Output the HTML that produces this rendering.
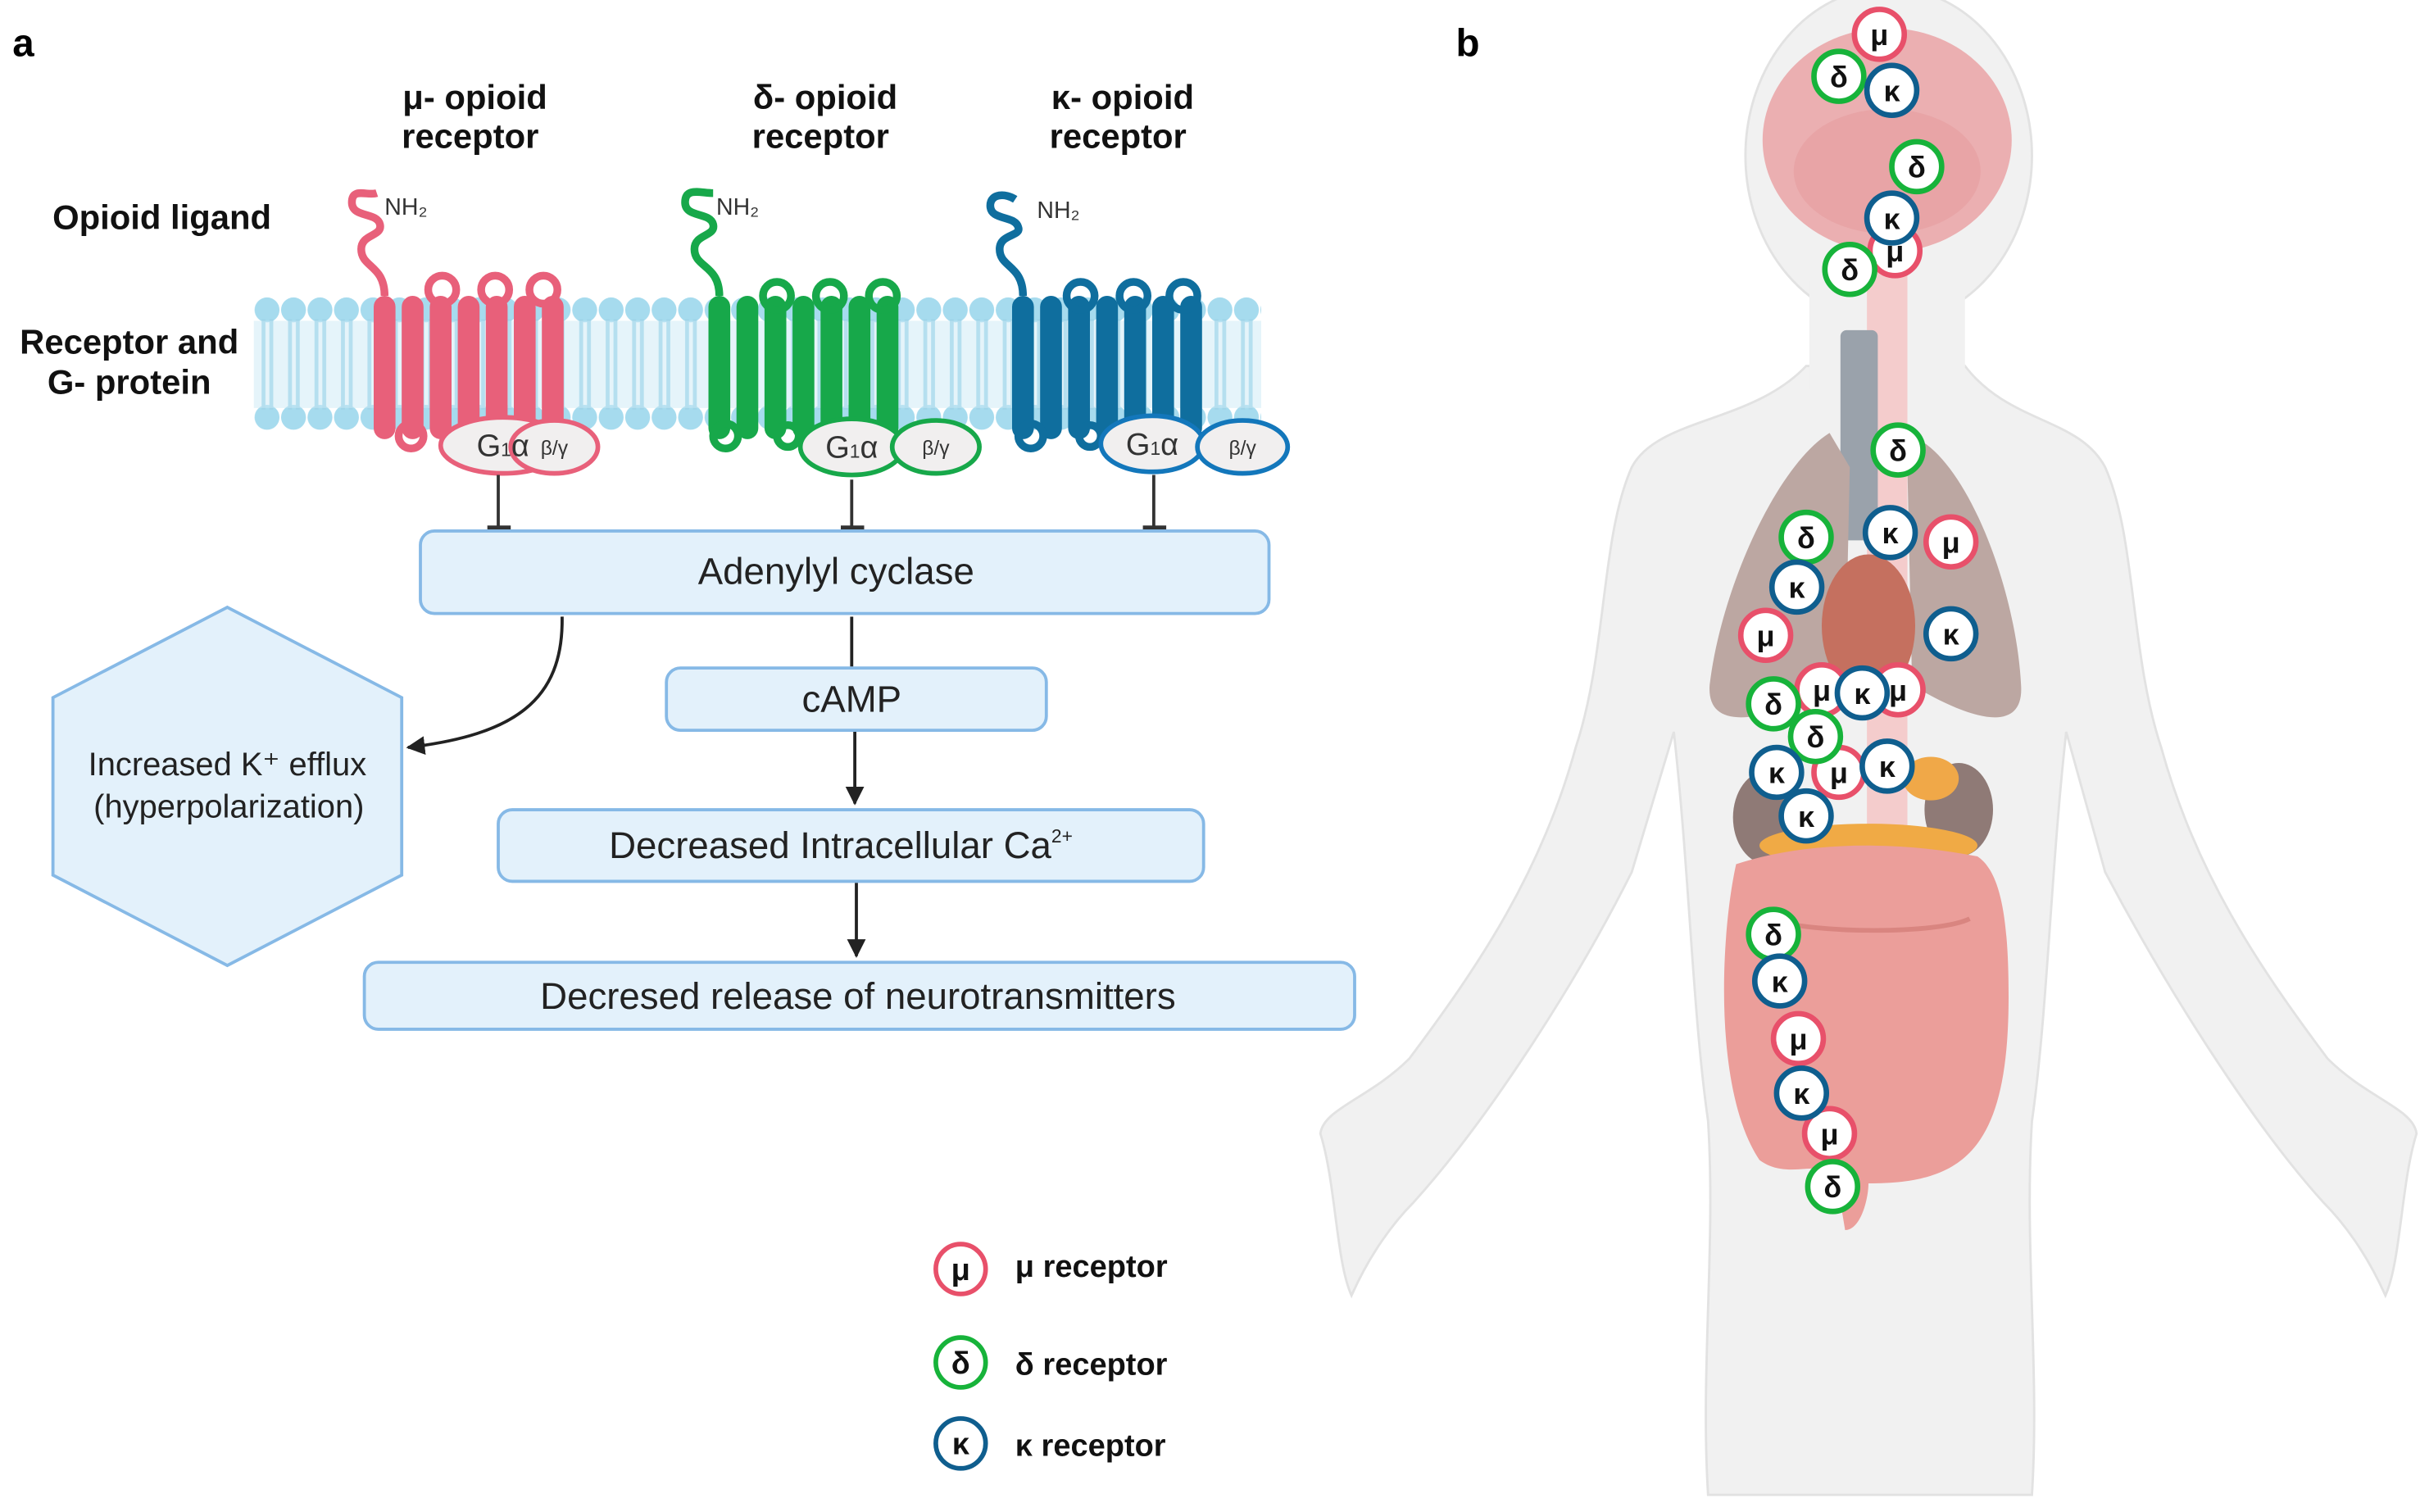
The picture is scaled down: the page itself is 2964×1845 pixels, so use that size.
<!DOCTYPE html>
<html><head><meta charset="utf-8"><style>
html,body{margin:0;padding:0;background:#fff}
svg{display:block}
text{font-family:"Liberation Sans","DejaVu Sans",sans-serif}
</style></head><body>
<svg width="2964" height="1845" viewBox="0 0 1560 971" xmlns="http://www.w3.org/2000/svg">
<defs>
<marker id="ar" viewBox="0 0 10 10" refX="9" refY="5" markerWidth="6" markerHeight="6" orient="auto"><path d="M0,0 L10,5 L0,10 z" fill="#222"/></marker>
<pattern id="lip" x="163" y="0" width="17" height="971" patternUnits="userSpaceOnUse">
<circle cx="8.5" cy="199" r="8" fill="#a6dbee"/><circle cx="8.5" cy="268" r="8" fill="#a6dbee"/>
<rect x="5" y="205" width="2.5" height="58" fill="#9fd4e8"/><rect x="10" y="205" width="2.5" height="58" fill="#9fd4e8"/>
</pattern>
<g id="rec">
<rect x="0" y="0" width="14" height="92" rx="7"/>
<rect x="18" y="0" width="14" height="92" rx="7"/>
<rect x="36" y="0" width="14" height="92" rx="7"/>
<rect x="54" y="0" width="14" height="92" rx="7"/>
<rect x="72" y="0" width="14" height="92" rx="7"/>
<rect x="90" y="0" width="14" height="92" rx="7"/>
<rect x="108" y="0" width="14" height="92" rx="7"/>
</g>
</defs>
<rect width="1560" height="971" fill="#fff"/>

<!-- Panel labels -->
<text x="8" y="36" font-size="25" font-weight="bold">a</text>
<text x="935" y="36" font-size="25" font-weight="bold">b</text>

<!-- headers -->
<g font-size="22" font-weight="bold" text-anchor="middle" fill="#111">
<text x="305" y="70">μ- opioid</text><text x="302" y="95">receptor</text>
<text x="530" y="70">δ- opioid</text><text x="527" y="95">receptor</text>
<text x="721" y="70">κ- opioid</text><text x="718" y="95">receptor</text>
<text x="104" y="147">Opioid ligand</text>
<text x="83" y="227">Receptor and</text>
<text x="83" y="253">G- protein</text>
</g>

<!-- membrane -->
<rect x="163" y="190" width="647" height="87" fill="url(#lip)"/>
<rect x="163" y="206" width="647" height="56" fill="#cbeaf5" opacity="0.5"/>

<!-- mu receptor -->
<g fill="#e8607a" stroke="#e8607a">
<use href="#rec" x="240" y="190" stroke="none"/>
<g fill="none" stroke-width="5">
<circle cx="284" cy="186" r="9"/><circle cx="318" cy="186" r="9"/><circle cx="349" cy="186" r="9"/>
<circle cx="264" cy="280" r="8"/><circle cx="300" cy="280" r="7"/>
<path d="M247,190 C247,170 232,172 232,160 C232,150 246,152 244,144 C242,136 226,140 226,130 C226,120 236,126 242,124"/>
</g></g>
<text x="247" y="138" font-size="15" fill="#333">NH₂</text>
<ellipse cx="323" cy="286" rx="40" ry="18" fill="#f1efef" stroke="#e8607a" stroke-width="3"/>
<ellipse cx="356" cy="287" rx="28" ry="17" fill="#f1efef" stroke="#e8607a" stroke-width="3"/>
<text x="323" y="293" font-size="20" text-anchor="middle" fill="#333">G<tspan font-size="12">1</tspan>α</text>
<text x="356" y="292" font-size="13" text-anchor="middle" fill="#333">β/γ</text>

<!-- delta receptor -->
<g fill="#17a84a" stroke="#17a84a">
<use href="#rec" x="455" y="190" stroke="none"/>
<g fill="none" stroke-width="5">
<circle cx="499" cy="190" r="9"/><circle cx="533" cy="190" r="9"/><circle cx="567" cy="190" r="9"/>
<circle cx="466" cy="280" r="8"/><circle cx="506" cy="280" r="7"/>
<path d="M462,190 C462,170 446,172 446,160 C446,150 460,152 458,144 C456,136 440,140 440,130 C440,120 450,124 458,124"/>
</g></g>
<text x="460" y="138" font-size="15" fill="#333">NH₂</text>
<ellipse cx="547" cy="287" rx="33" ry="18" fill="#f1efef" stroke="#17a84a" stroke-width="3"/>
<ellipse cx="601" cy="287" rx="28" ry="17" fill="#f1efef" stroke="#17a84a" stroke-width="3"/>
<text x="547" y="294" font-size="20" text-anchor="middle" fill="#333">G<tspan font-size="12">1</tspan>α</text>
<text x="601" y="292" font-size="13" text-anchor="middle" fill="#333">β/γ</text>

<!-- kappa receptor -->
<g fill="#0f6e9e" stroke="#0f6e9e">
<use href="#rec" x="650" y="190" stroke="none"/>
<g fill="none" stroke-width="5">
<circle cx="694" cy="190" r="9"/><circle cx="728" cy="190" r="9"/><circle cx="760" cy="190" r="9"/>
<circle cx="662" cy="280" r="8"/><circle cx="700" cy="280" r="7"/>
<path d="M657,190 C657,170 642,172 642,160 C642,150 656,152 654,146 C652,138 636,142 636,132 C636,124 646,124 652,128"/>
</g></g>
<text x="666" y="140" font-size="15" fill="#333">NH₂</text>
<ellipse cx="740" cy="285" rx="33" ry="18" fill="#f1efef" stroke="#1377bb" stroke-width="3"/>
<ellipse cx="798" cy="287" rx="29" ry="17" fill="#f1efef" stroke="#1377bb" stroke-width="3"/>
<text x="740" y="292" font-size="20" text-anchor="middle" fill="#333">G<tspan font-size="12">1</tspan>α</text>
<text x="798" y="292" font-size="13" text-anchor="middle" fill="#333">β/γ</text>

<!-- inhibition lines -->
<g stroke="#333" stroke-width="2">
<line x1="320" y1="305" x2="320" y2="339"/><line x1="313" y1="339" x2="328" y2="339" stroke-width="3"/>
<line x1="547" y1="308" x2="547" y2="339"/><line x1="540" y1="339" x2="555" y2="339" stroke-width="3"/>
<line x1="741" y1="305" x2="741" y2="339"/><line x1="734" y1="339" x2="749" y2="339" stroke-width="3"/>
</g>

<!-- boxes -->
<g fill="#e3f1fb" stroke="#86b9e6" stroke-width="2">
<rect x="270" y="341" width="545" height="53" rx="9"/>
<rect x="428" y="429" width="244" height="40" rx="9"/>
<rect x="320" y="520" width="453" height="46" rx="9"/>
<rect x="234" y="618" width="636" height="43" rx="9"/>
<path d="M146,390 L258,448 L258,562 L146,620 L34,562 L34,448 Z"/>
</g>
<g font-size="24" text-anchor="middle" fill="#222">
<text x="537" y="375">Adenylyl cyclase</text>
<text x="547" y="457">cAMP</text>
<text x="540" y="551">Decreased Intracellular Ca<tspan font-size="12" dy="-10">2+</tspan></text>
<text x="551" y="648">Decresed release of neurotransmitters</text>
<text x="146" y="498" font-size="21">Increased K⁺ efflux</text>
<text x="147" y="525" font-size="21">(hyperpolarization)</text>
</g>
<g stroke="#222" stroke-width="2" fill="none">
<line x1="547" y1="396" x2="547" y2="428"/>
<line x1="549" y1="470" x2="549" y2="516" marker-end="url(#ar)"/>
<line x1="550" y1="567" x2="550" y2="614" marker-end="url(#ar)"/>
<path d="M361,396 C362,450 330,472 262,480" marker-end="url(#ar)"/>
</g>

<!-- legend -->
<g stroke-width="3" fill="#fff">
<circle cx="617" cy="815" r="16" stroke="#e8506a"/>
<circle cx="617" cy="875" r="16" stroke="#17b33a"/>
<circle cx="617" cy="927" r="16" stroke="#0f5e8e"/>
</g>
<g font-size="20" font-weight="bold" fill="#111">
<text x="617" y="822" text-anchor="middle">μ</text>
<text x="617" y="882" text-anchor="middle">δ</text>
<text x="617" y="934" text-anchor="middle">κ</text>
<text x="652" y="820">μ receptor</text>
<text x="652" y="883">δ receptor</text>
<text x="652" y="935">κ receptor</text>
</g>

<!-- body -->
<g fill="#f1f1f1" stroke="#e2e2e2" stroke-width="1.5">
<path d="M1160,235 C1125,272 1065,268 1048,300 C1028,345 1032,420 1012,480 C990,560 950,620 905,680 C880,705 850,712 848,728 C858,760 858,810 868,832 C880,805 895,785 908,772 C955,720 1012,632 1048,560 L1075,470 C1085,560 1087,650 1097,720 C1102,800 1092,880 1097,960 L1305,960 C1310,880 1300,800 1305,720 C1315,650 1317,560 1327,470 L1352,560 C1390,632 1445,720 1492,772 C1505,785 1520,805 1532,832 C1542,810 1542,760 1552,728 C1550,712 1520,705 1495,680 C1450,620 1410,560 1388,480 C1368,420 1372,345 1352,300 C1335,268 1290,272 1262,235 Z"/>
<ellipse cx="1213" cy="100" rx="92" ry="108"/>
<rect x="1162" y="180" width="100" height="70" stroke="none"/>
</g>
<!-- organs -->
<ellipse cx="1212" cy="90" rx="80" ry="72" fill="#eaa3a6" opacity="0.85"/>
<ellipse cx="1212" cy="110" rx="60" ry="40" fill="#e59a9c" opacity="0.5"/>
<rect x="1199" y="160" width="26" height="540" fill="#f4cccc"/>
<rect x="1182" y="212" width="24" height="135" rx="4" fill="#9aa2ab"/>
<path d="M1175,278 C1140,300 1105,380 1098,440 C1096,470 1130,465 1185,440 L1188,300 Z" fill="#bca7a2"/>
<path d="M1232,282 C1265,300 1295,380 1298,440 C1300,470 1270,465 1228,440 L1225,300 Z" fill="#bca7a2"/>
<ellipse cx="1200" cy="402" rx="30" ry="46" fill="#c5705f"/>
<ellipse cx="1135" cy="525" rx="22" ry="30" fill="#8f7a76"/>
<ellipse cx="1258" cy="520" rx="22" ry="30" fill="#8f7a76"/>
<ellipse cx="1240" cy="500" rx="18" ry="14" fill="#f0a848"/>
<ellipse cx="1200" cy="543" rx="70" ry="14" fill="#f0aa45"/>
<path d="M1115,555 C1105,600 1100,700 1130,745 C1150,760 1175,740 1180,760 L1185,790 C1195,790 1200,770 1200,760 C1260,760 1290,740 1290,640 C1290,590 1285,560 1270,550 C1220,540 1160,540 1115,555 Z" fill="#eb9e9a"/>
<path d="M1135,590 C1165,600 1245,600 1265,590" stroke="#d98580" stroke-width="3" fill="none"/>

<!-- badges -->
<g stroke-width="3.5" fill="#fff">
<g stroke="#e8506a">
<circle cx="1219" cy="443" r="16"/><circle cx="1217" cy="161" r="16"/>
<circle cx="1207" cy="22" r="16"/><circle cx="1253" cy="348" r="16"/><circle cx="1134" cy="408" r="16"/>
<circle cx="1170" cy="443" r="16"/><circle cx="1181" cy="496" r="16"/><circle cx="1155" cy="667" r="16"/><circle cx="1175" cy="728" r="16"/>
</g>
<g stroke="#17b33a">
<circle cx="1181" cy="49" r="16"/><circle cx="1231" cy="107" r="16"/><circle cx="1188" cy="173" r="16"/><circle cx="1219" cy="289" r="16"/>
<circle cx="1160" cy="345" r="16"/><circle cx="1139" cy="452" r="16"/><circle cx="1166" cy="473" r="16"/><circle cx="1139" cy="600" r="16"/><circle cx="1177" cy="762" r="16"/>
</g>
<g stroke="#0f5e8e">
<circle cx="1215" cy="58" r="16"/><circle cx="1215" cy="140" r="16"/><circle cx="1214" cy="342" r="16"/><circle cx="1154" cy="377" r="16"/>
<circle cx="1253" cy="407" r="16"/><circle cx="1196" cy="445" r="16"/><circle cx="1141" cy="496" r="16"/><circle cx="1212" cy="492" r="16"/>
<circle cx="1160" cy="524" r="16"/><circle cx="1143" cy="630" r="16"/><circle cx="1157" cy="702" r="16"/>
</g>
</g>
<g font-size="19" font-weight="bold" text-anchor="middle" fill="#111">
<text x="1219" y="450">μ</text><text x="1217" y="168">μ</text><text x="1207" y="29">μ</text><text x="1253" y="355">μ</text><text x="1134" y="415">μ</text>
<text x="1170" y="450">μ</text><text x="1181" y="503">μ</text><text x="1155" y="674">μ</text><text x="1175" y="735">μ</text>
<text x="1181" y="56">δ</text><text x="1231" y="114">δ</text><text x="1188" y="180">δ</text><text x="1219" y="296">δ</text>
<text x="1160" y="352">δ</text><text x="1139" y="459">δ</text><text x="1166" y="480">δ</text><text x="1139" y="607">δ</text><text x="1177" y="769">δ</text>
<text x="1215" y="65">κ</text><text x="1215" y="147">κ</text><text x="1214" y="349">κ</text><text x="1154" y="384">κ</text>
<text x="1253" y="414">κ</text><text x="1196" y="452">κ</text><text x="1141" y="503">κ</text><text x="1212" y="499">κ</text>
<text x="1160" y="531">κ</text><text x="1143" y="637">κ</text><text x="1157" y="709">κ</text>
</g>
</svg>
</body></html>
